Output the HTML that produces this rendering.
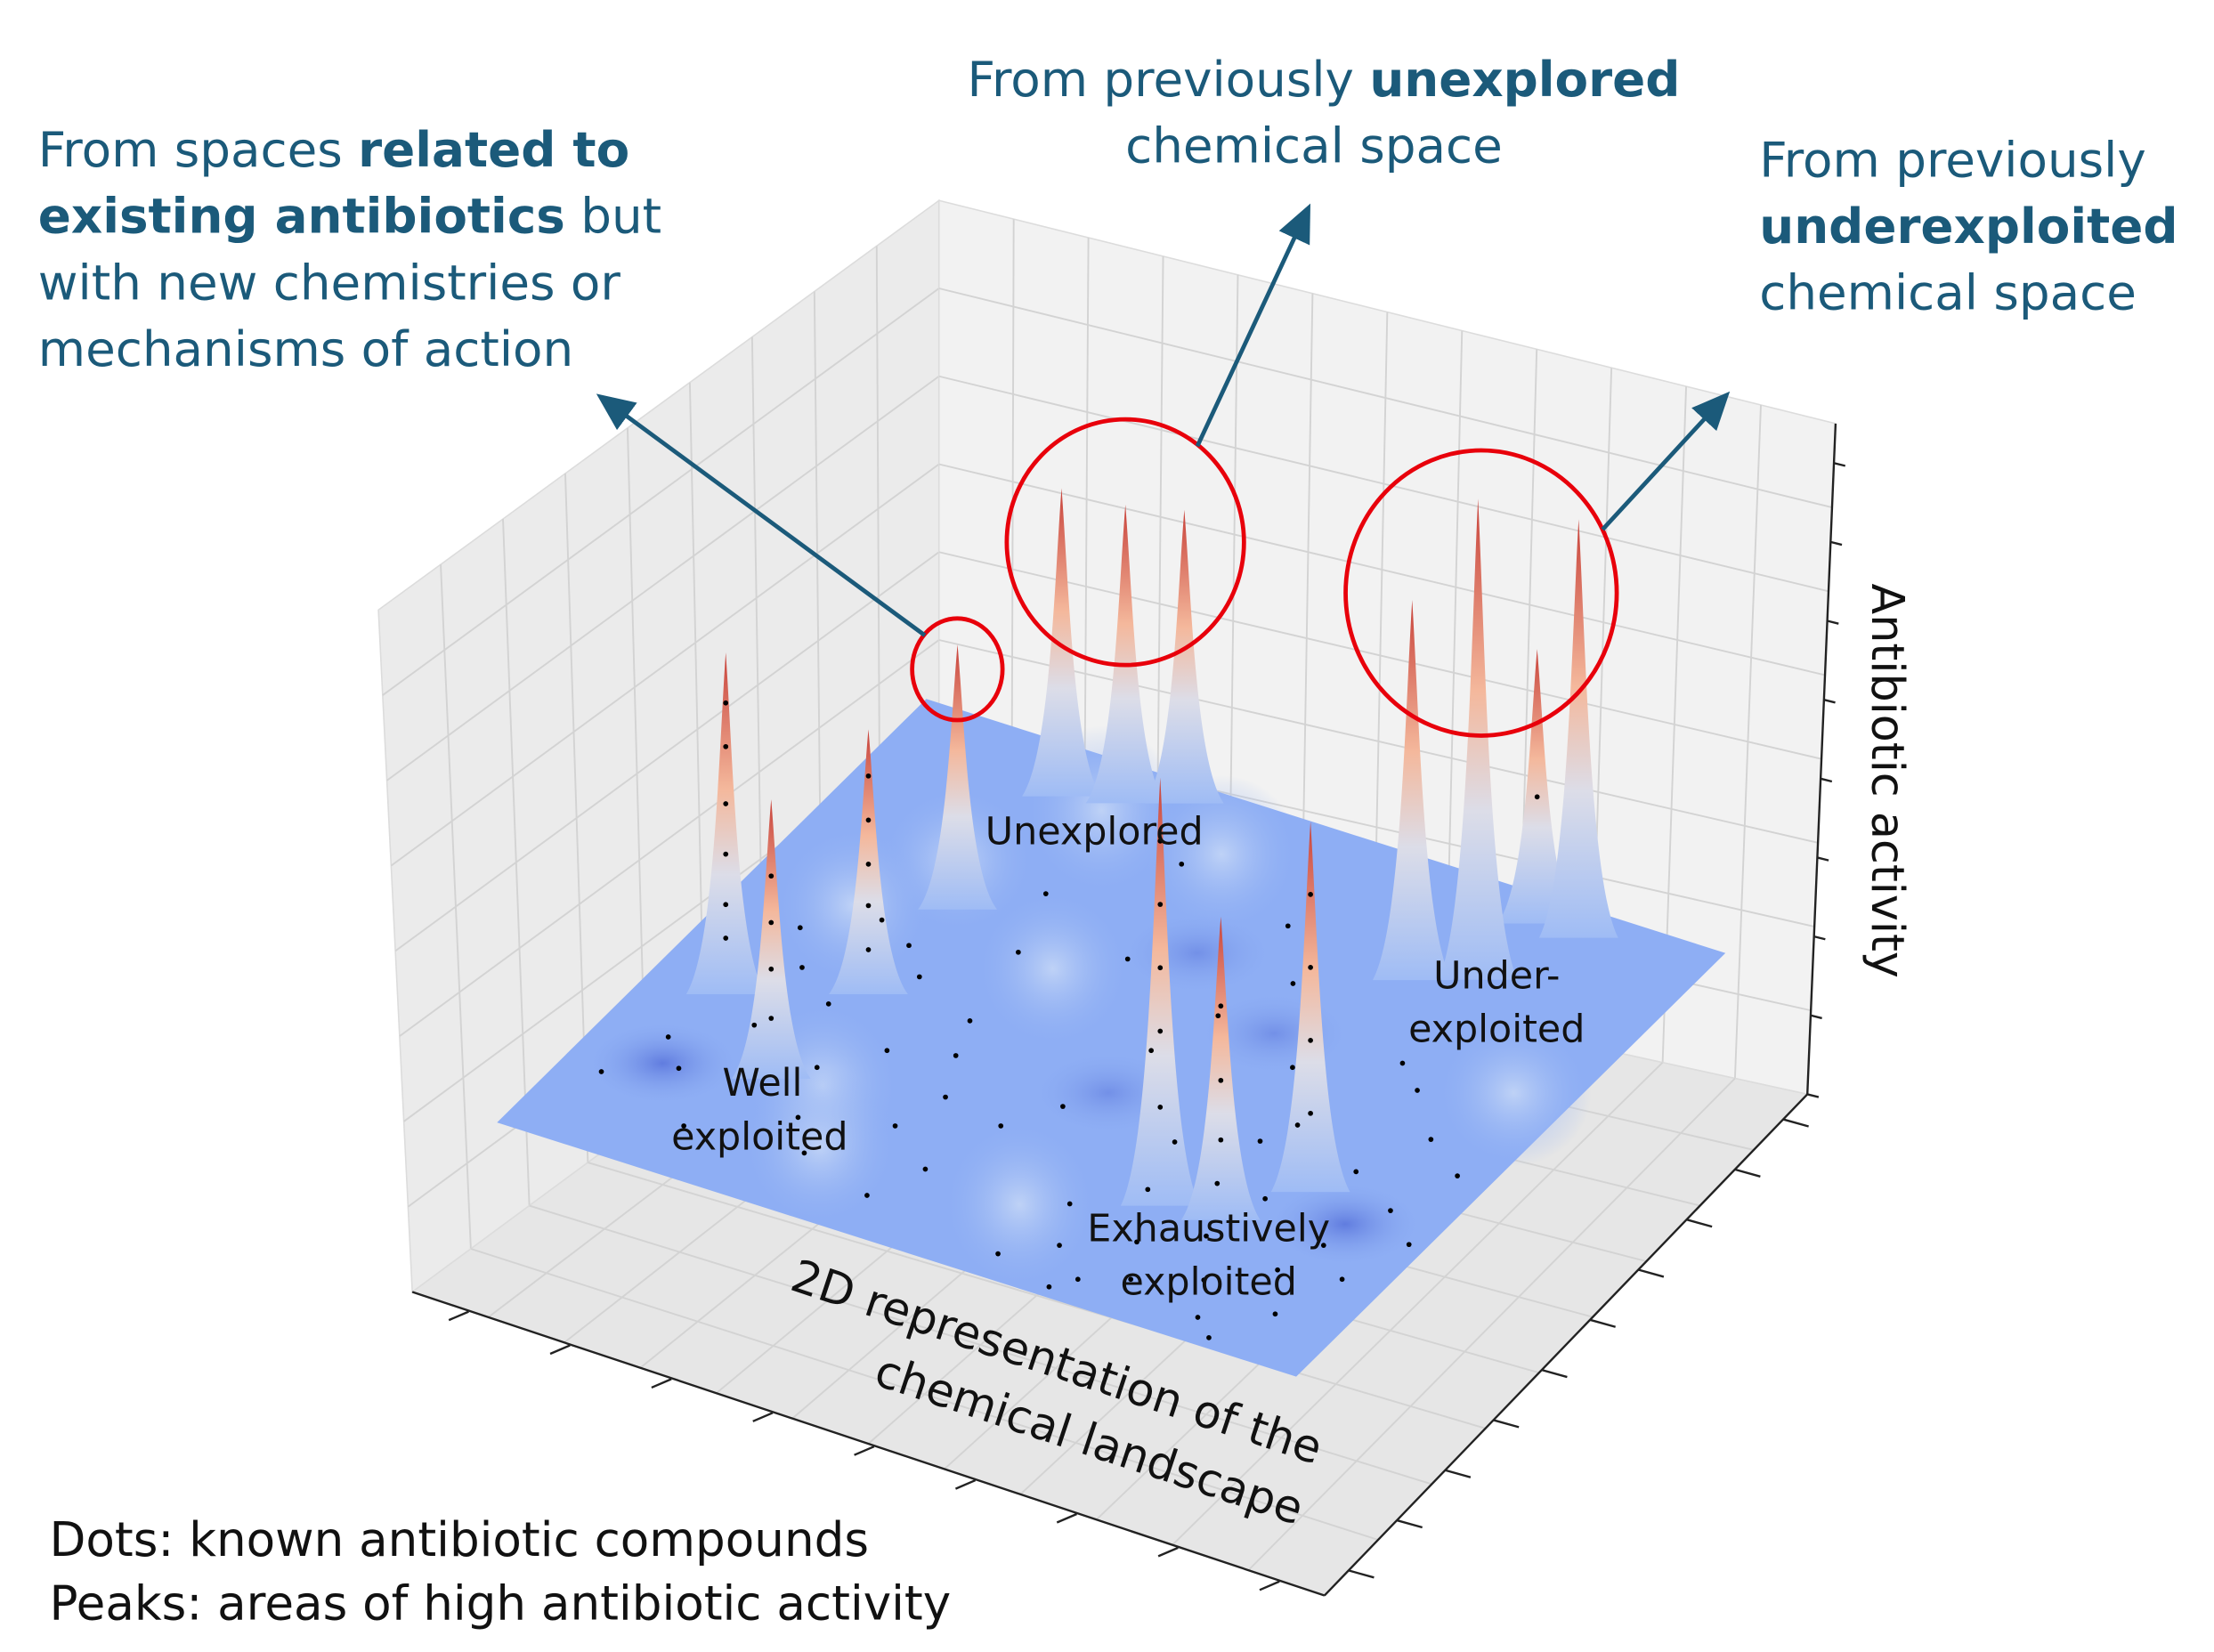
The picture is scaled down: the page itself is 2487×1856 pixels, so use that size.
<!DOCTYPE html>
<html><head><meta charset="utf-8"><style>
html,body{margin:0;padding:0;background:#fff;}
svg{display:block;}
text{font-family:"DejaVu Sans","Liberation Sans",sans-serif;}
</style></head><body>
<svg id="chart" xmlns="http://www.w3.org/2000/svg" width="2487" height="1856" viewBox="0 0 1568 1170" preserveAspectRatio="none">
<defs>
<linearGradient id="peakGrad" x1="0" y1="1" x2="0" y2="0">
<stop offset="0" stop-color="#9fbcf5"/><stop offset="0.35" stop-color="#dcdde8"/><stop offset="0.6" stop-color="#f4b89c"/><stop offset="1" stop-color="#c8423a"/>
</linearGradient>
<radialGradient id="hillGrad"><stop offset="0" stop-color="#c4d6f6"/><stop offset="1" stop-color="#8eaef4" stop-opacity="0"/></radialGradient>
<radialGradient id="dipGrad"><stop offset="0" stop-color="#4d67d6"/><stop offset="1" stop-color="#8eaef4" stop-opacity="0"/></radialGradient>
<marker id="arr" markerWidth="10" markerHeight="10" refX="5" refY="5" orient="auto"><path d="M0,1 L9,5 L0,9 Z" fill="#1b5a7a"/></marker>
</defs>
<g id="panes"></g>
<g id="surface"></g>
<g id="dots"></g>
<g id="labels" font-size="27" fill="#111" text-anchor="middle">
<text x="775" y="598">Unexplored</text>
<text x="1060" y="700">Under-</text>
<text x="1060" y="738">exploited</text>
<text x="540" y="776">Well</text>
<text x="538" y="814">exploited</text>
<text x="856" y="879">Exhaustively</text>
<text x="856" y="917">exploited</text>
</g>
<g font-size="32" fill="#111" text-anchor="middle">
<text transform="translate(745,975) rotate(18.4)">2D representation of the</text>
<text transform="translate(768,1030) rotate(18.4)">chemical landscape</text>
<text transform="translate(1326,553) rotate(90)">Antibiotic activity</text>
</g>
<g font-size="33.5" fill="#111">
<text x="35" y="1102">Dots: known antibiotic compounds</text>
<text x="35" y="1147">Peaks: areas of high antibiotic activity</text>
</g>
<g fill="#1b5a7a" font-size="34.5">
<text x="27" y="118">From spaces <tspan font-weight="bold">related to</tspan></text>
<text x="27" y="165"><tspan font-weight="bold">existing antibiotics</tspan> but</text>
<text x="27" y="212">with new chemistries or</text>
<text x="27" y="259">mechanisms of action</text>
<text x="685" y="68">From previously <tspan font-weight="bold">unexplored</tspan></text>
<text x="797" y="115">chemical space</text>
<text x="1246" y="125">From  previously</text>
<text x="1246" y="172" font-weight="bold">underexploited</text>
<text x="1246" y="219">chemical space</text>
</g>
<g fill="none" stroke="#e8000b" stroke-width="3">
<ellipse cx="678" cy="474" rx="32" ry="36"/>
<ellipse cx="797" cy="384" rx="84" ry="87"/>
<ellipse cx="1049" cy="420" rx="96" ry="101"/>
</g>
<g stroke="#1b5a7a" stroke-width="3" marker-end="url(#arr)">
<line x1="655" y1="450" x2="432" y2="286"/>
<line x1="848" y1="316" x2="923" y2="155"/>
<line x1="1135" y1="375" x2="1217" y2="286"/>
</g>
</svg>
<script>
// peak data: floor coordinates (u,v in 0..1) and activity height (0..1)
const peakU = [0.088,0.212,0.223,0.226,0.216,0.283,0.339,0.702,0.773,0.831,0.724,0.786,0.788,0.841];
const peakV = [0.369,0.244,0.450,0.652,0.913,0.937,0.970,0.238,0.247,0.348,0.784,0.822,0.956,0.954];
const peakZ = [0.70,0.57,0.54,0.54,0.63,0.61,0.60,0.88,0.62,0.76,0.78,0.99,0.56,0.86];
// hills (+) and dips (-) in the surface
const hillU = [0.10,0.30,0.40,0.45,0.55,0.60,0.90,0.20,0.65,0.95,0.35,0.50,0.30,0.15];
const hillV = [0.20,0.20,0.55,0.85,0.40,0.10,0.30,0.70,0.60,0.60,0.10,0.70,0.85,0.55];
const hillZ = [-0.5,0.5,0.4,0.4,-0.3,0.5,-0.5,0.3,-0.3,0.3,0.4,-0.3,0.5,0.4];
// known compounds
const dotU = [0.05,0.08,0.12,0.15,0.18,0.20,0.25,0.28,0.30,0.32,0.35,0.38,0.40,0.42,0.45,0.22,0.26,0.33,0.14,0.37,0.48,0.55,0.60,0.62,0.65,0.68,0.70,0.72,0.75,0.78,0.80,0.82,0.85,0.88,0.90,0.92,0.95,0.66,0.74,0.86,0.93,0.58,0.52,0.44,0.70,0.80,0.90,0.62,0.10,0.17,0.30,0.76,0.84,0.96,0.98,0.56,0.40,0.68,0.88,0.74];
const dotV = [0.15,0.25,0.20,0.32,0.10,0.40,0.28,0.18,0.35,0.12,0.45,0.22,0.30,0.08,0.16,0.55,0.50,0.60,0.45,0.38,0.28,0.50,0.05,0.18,0.10,0.25,0.05,0.15,0.08,0.20,0.30,0.12,0.05,0.18,0.25,0.10,0.20,0.35,0.30,0.40,0.35,0.60,0.35,0.65,0.55,0.62,0.50,0.70,0.52,0.58,0.72,0.45,0.58,0.45,0.30,0.80,0.85,0.02,0.02,0.40];
const dotZ = [0,0,0,0,0,0,0,0,0,0,0,0,0,0,0,0,0,0,0,0,0,0,0,0,0,0,0,0,0,0,0,0,0,0,0,0,0,0,0,0,0,0,0,0,0,0,0,0,0,0,0,0,0,0,0,0,0,0,0,0];
// dots on the slopes of peaks: peak index and relative height
const slopePeak = [0,0,0,0,0,0,1,1,1,1,2,2,2,2,2,7,7,7,7,7,8,8,8,9,9,9,9,12];
const slopeFrac = [0.85,0.72,0.55,0.40,0.25,0.15,0.72,0.55,0.38,0.20,0.82,0.65,0.48,0.32,0.15,0.85,0.70,0.55,0.40,0.22,0.70,0.45,0.25,0.80,0.60,0.40,0.20,0.45];

const NS='http://www.w3.org/2000/svg';
function el(tag,attrs,parent){const e=document.createElementNS(NS,tag);for(const k in attrs)e.setAttribute(k,attrs[k]);parent.appendChild(e);return e;}
const O=[352,795],U=[566,180],V=[304,-300],ZS=340;
function proj(u,v,z){return [O[0]+u*U[0]+v*V[0], O[1]+u*U[1]+v*V[1]-z*ZS];}
function lerp(a,b,t){return [a[0]+(b[0]-a[0])*t,a[1]+(b[1]-a[1])*t];}

const panes=document.getElementById('panes');
const A=[268,432],B=[665,142],C=[665,640],D=[292,915],E=[1300,300],F=[1280,775],G=[938,1130];
function pane(p1,p2,p3,p4,fill,name,n1,n2){
  const g=el('g',{},panes);
  
  
  el('polygon',{points:[p1,p2,p3,p4].map(p=>p.join(',')).join(' '),fill:fill,stroke:'#dcdcdc','stroke-width':1},g);
  for(let i=1;i<n1;i++){const a=lerp(p1,p2,i/n1),b=lerp(p4,p3,i/n1);el('line',{x1:a[0],y1:a[1],x2:b[0],y2:b[1],stroke:'#d3d3d3','stroke-width':1.2},g);}
  for(let i=1;i<n2;i++){const a=lerp(p1,p4,i/n2),b=lerp(p2,p3,i/n2);el('line',{x1:a[0],y1:a[1],x2:b[0],y2:b[1],stroke:'#d3d3d3','stroke-width':1.2},g);}
}
pane(A,B,C,D,'#ebebeb','left-wall-pane',9,8);
pane(B,E,F,C,'#f2f2f2','right-wall-pane',12,8);
pane(D,C,F,G,'#e6e6e6','floor-pane',9,12);
const ax=el('g',{stroke:'#222','stroke-width':1.5},panes);


el('line',{x1:D[0],y1:D[1],x2:G[0],y2:G[1]},ax);
el('line',{x1:G[0],y1:G[1],x2:F[0],y2:F[1]},ax);
el('line',{x1:F[0],y1:F[1],x2:E[0],y2:E[1]},ax);
for(let i=0;i<9;i++){const p=lerp(D,G,(i+0.5)/9);el('line',{x1:p[0]+4,y1:p[1]+2,x2:p[0]-10,y2:p[1]+8},ax);}
for(let i=0;i<10;i++){const p=lerp(G,F,(i+0.5)/10);el('line',{x1:p[0],y1:p[1],x2:p[0]+18,y2:p[1]+5},ax);}
for(let i=0;i<9;i++){const p=lerp(F,E,i/8.5);el('line',{x1:p[0],y1:p[1],x2:p[0]+8,y2:p[1]+2},ax);}

const surf=document.getElementById('surface');
const P0=proj(0,0,0),P1=proj(1,0,0),P2=proj(1,1,0),P3=proj(0,1,0);
const plane=el('polygon',{points:[P0,P1,P2,P3].map(p=>p.join(',')).join(' '),fill:'#8eaef4'},surf);


for(let i=0;i<hillU.length;i++){
  const c=proj(hillU[i],hillV[i],0);
  const up=hillZ[i]>0;
  const h=el('ellipse',{cx:c[0],cy:c[1]-(up?Math.abs(hillZ[i])*40:0),rx:55,ry:up?40+hillZ[i]*40:30,fill:up?'url(#hillGrad)':'url(#dipGrad)',opacity:up?0.9:Math.abs(hillZ[i])*1.4},surf);
  
  
}
const order=peakU.map((_,i)=>i).sort((a,b)=>proj(peakU[a],peakV[a],0)[1]-proj(peakU[b],peakV[b],0)[1]);
for(const i of order){
  const b=proj(peakU[i],peakV[i],0),t=proj(peakU[i],peakV[i],peakZ[i]);
  const w=28,h=b[1]-t[1];
  const d=`M${b[0]-w},${b[1]+4} C${b[0]-8},${b[1]-h*0.12} ${b[0]-5},${b[1]-h*0.7} ${t[0]},${t[1]} C${b[0]+5},${b[1]-h*0.7} ${b[0]+8},${b[1]-h*0.12} ${b[0]+w},${b[1]+4} Z`;
  const p=el('path',{d:d,fill:'url(#peakGrad)'},surf);
  
  
}
const dots=document.getElementById('dots');
for(let i=0;i<dotU.length;i++){
  const p=proj(dotU[i],dotV[i],dotZ[i]);
  const c=el('circle',{cx:p[0],cy:p[1],r:1.8,fill:'#000'},dots);
  
  
}
for(let i=0;i<slopePeak.length;i++){
  const k=slopePeak[i];
  const p=proj(peakU[k],peakV[k],peakZ[k]*slopeFrac[i]);
  const c=el('circle',{cx:p[0],cy:p[1],r:1.8,fill:'#000'},dots);
  
  
}
</script>
</body></html>
